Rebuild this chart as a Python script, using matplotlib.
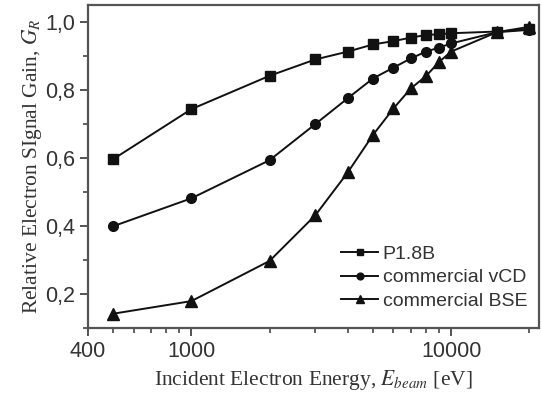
import matplotlib
matplotlib.use("Agg")
import matplotlib.pyplot as plt
from matplotlib.ticker import FixedLocator, FuncFormatter, NullFormatter

energy = [500, 1000, 2000, 3000, 4000, 5000, 6000, 7000, 8000, 9000, 10000, 15000, 20000]
p18b = [0.596, 0.743, 0.841, 0.889, 0.912, 0.933, 0.943, 0.953, 0.961, 0.963, 0.966, 0.971, 0.978]
vcd = [0.399, 0.481, 0.593, 0.699, 0.775, 0.833, 0.865, 0.892, 0.912, 0.924, 0.936, 0.969, 0.976]
bse = [0.142, 0.179, 0.297, 0.431, 0.557, 0.667, 0.745, 0.804, 0.840, 0.882, 0.912, 0.969, 0.985]
labels = ["P1.8B", "commercial vCD", "commercial BSE"]

x_major = [400, 1000, 10000]
x_minor = [500, 600, 700, 800, 900, 2000, 3000, 4000, 5000, 6000, 7000, 8000, 9000, 20000]
y_major = [0.2, 0.4, 0.6, 0.8, 1.0]
y_minor = [0.1, 0.3, 0.5, 0.7, 0.9]

plt.rcParams["mathtext.fontset"] = "stix"
sans = ["Liberation Sans", "DejaVu Sans"]
serif = ["Liberation Serif", "DejaVu Serif"]

fig = plt.figure(figsize=(5.41, 3.97), dpi=100)
ax = fig.add_axes([88 / 541, 1 - 328 / 397, 451 / 541, 323 / 397])

col = "#111111"
ax.plot(energy, p18b, "-s", color=col, lw=1.4, ms=6.5, label=labels[0])
ax.plot(energy, vcd, "-o", color=col, lw=1.4, ms=7, label=labels[1])
ax.plot(energy, bse, "-^", color=col, lw=1.4, ms=8, label=labels[2])

ax.set_xscale("log")
ax.set_xlim(400, 21800)
ax.set_ylim(0.1, 1.049)
ax.xaxis.set_major_locator(FixedLocator(x_major))
ax.xaxis.set_minor_locator(FixedLocator(x_minor))
ax.xaxis.set_major_formatter(FuncFormatter(lambda v, p: f"{v:.0f}"))
ax.xaxis.set_minor_formatter(NullFormatter())
ax.yaxis.set_major_locator(FixedLocator(y_major))
ax.yaxis.set_minor_locator(FixedLocator(y_minor))
ax.yaxis.set_major_formatter(FuncFormatter(lambda v, p: f"{v:.1f}".replace(".", ",")))

ax.tick_params(which="major", direction="out", length=6, width=1.3, color="#444444",
               labelsize=15.5, labelcolor="#333333")
ax.tick_params(which="minor", direction="out", length=3.5, width=1.2, color="#444444")
ax.tick_params(axis="y", pad=3)
for lab in ax.get_xticklabels() + ax.get_yticklabels():
    lab.set_family(sans)

for spine in ax.spines.values():
    spine.set_linewidth(1.6)
    spine.set_color("#555555")

ax.set_xlabel(r"Incident Electron Energy, $E_{beam}$ [eV]", family=serif, fontsize=15.5,
              color="#333333", labelpad=4)
ax.set_ylabel(r"Relative Electron SIgnal Gain, $G_R$", family=serif, fontsize=15.5,
              color="#333333", labelpad=1)

leg = ax.legend(loc="lower right", bbox_to_anchor=(1.0, 0.02), frameon=False,
                prop={"family": sans, "size": 14}, handlelength=1.9, handletextpad=0.25,
                labelspacing=0.3, markerscale=0.7, borderaxespad=0.2)
for t in leg.get_texts():
    t.set_color("#333333")

fig.savefig("out.png", dpi=100)
